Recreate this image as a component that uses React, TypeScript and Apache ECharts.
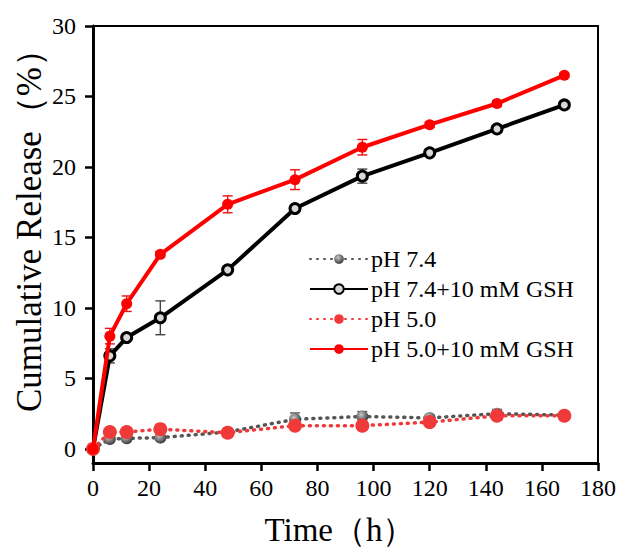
import React, { useEffect, useRef } from "react";
import * as echarts from "echarts";

const times = [0, 6, 12, 24, 48, 72, 96, 120, 144, 168];
const ph74 = [0, 0.7, 0.75, 0.8, 1.2, 2.1, 2.3, 2.2, 2.5, 2.4];
const ph74Err = [0, 0.1, 0.1, 0.15, 0.1, 0.45, 0.35, 0.2, 0.3, 0.2];
const ph74Gsh = [0, 6.6, 7.9, 9.3, 12.7, 17.05, 19.35, 21.0, 22.7, 24.4];
const ph74GshErr = [0, 0.5, 0.2, 1.2, 0.2, 0.2, 0.5, 0.2, 0.2, 0.15];
const ph50 = [0, 1.2, 1.2, 1.4, 1.15, 1.65, 1.65, 1.9, 2.35, 2.35];
const ph50Err = [0, 0.2, 0.15, 0.2, 0.1, 0.15, 0.15, 0.1, 0.2, 0.1];
const ph50Gsh = [0, 8.0, 10.3, 13.8, 17.35, 19.1, 21.4, 23.0, 24.5, 26.5];
const ph50GshErr = [0, 0.55, 0.55, 0.2, 0.6, 0.7, 0.55, 0.2, 0.2, 0.15];

const xTicks = [0, 20, 40, 60, 80, 100, 120, 140, 160, 180];
const yTicks = [0, 5, 10, 15, 20, 25, 30];

const names = ["pH 7.4", "pH 7.4+10 mM GSH", "pH 5.0", "pH 5.0+10 mM GSH"];

const SERIF = "'Liberation Serif', 'Times New Roman', 'DejaVu Serif', serif";

function pairs(vals: number[]) {
  return times.map((t, i) => [t, vals[i]]);
}
function errData(vals: number[], errs: number[]) {
  return times
    .map((t, i) => [t, vals[i] - errs[i], vals[i] + errs[i]])
    .filter((d, i) => errs[i] > 0);
}
function errSeries(vals: number[], errs: number[], color: string, z: number) {
  return {
    type: "custom",
    z,
    silent: true,
    data: errData(vals, errs),
    renderItem: (params: any, api: any) => {
      const x = api.value(0);
      const lo = api.value(1);
      const hi = api.value(2);
      const p1 = api.coord([x, hi]);
      const p2 = api.coord([x, lo]);
      const w = 5;
      const st = { stroke: color, lineWidth: 1.4 };
      return {
        type: "group",
        children: [
          { type: "line", shape: { x1: p1[0], y1: p1[1], x2: p2[0], y2: p2[1] }, style: st },
          { type: "line", shape: { x1: p1[0] - w, y1: p1[1], x2: p1[0] + w, y2: p1[1] }, style: st },
          { type: "line", shape: { x1: p2[0] - w, y1: p2[1], x2: p2[0] + w, y2: p2[1] }, style: st },
        ],
      };
    },
  };
}

export default function App() {
  const ref = useRef<HTMLDivElement>(null);
  useEffect(() => {
    if (!ref.current) return;
    const chart = echarts.init(ref.current, null, { renderer: "svg" });
    const greyBall = new echarts.graphic.RadialGradient(0.4, 0.35, 0.65, [
      { offset: 0, color: "#c8c8c8" },
      { offset: 1, color: "#3a3a3a" },
    ]);
    chart.setOption({
      animation: false,
      backgroundColor: "#ffffff",
      grid: {
        left: 93,
        right: 22,
        top: 26,
        bottom: 90,
        show: true,
        borderColor: "#000",
        borderWidth: 2,
        backgroundColor: "transparent",
      },
      legend: {
        data: names,
        orient: "vertical",
        left: 304,
        top: 242,
        itemWidth: 58,
        itemHeight: 12,
        itemGap: 6,
        textStyle: { fontFamily: SERIF, fontSize: 24, color: "#000", padding: [0, 0, 0, -2] },
      },
      xAxis: {
        type: "value",
        min: 0,
        max: 180,
        interval: 20,
        splitLine: { show: false },
        axisLine: { onZero: false, lineStyle: { color: "#000", width: 3 } },
        axisTick: { show: true, inside: false, length: 8, lineStyle: { color: "#000", width: 2.5 } },
        axisLabel: { fontFamily: SERIF, fontSize: 24, color: "#000", margin: 13, customValues: xTicks },
      },
      yAxis: {
        type: "value",
        min: -1,
        max: 30,
        splitLine: { show: false },
        axisLine: { onZero: false, lineStyle: { color: "#000", width: 3 } },
        axisTick: {
          show: true,
          inside: false,
          length: 8,
          lineStyle: { color: "#000", width: 2.5 },
          customValues: yTicks,
        },
        axisLabel: { fontFamily: SERIF, fontSize: 24, color: "#000", margin: 17, customValues: yTicks },
      },
      graphic: [
        {
          type: "text",
          x: 29,
          y: 222,
          rotation: Math.PI / 2,
          style: {
            text: "Cumulative Release（%）",
            fontFamily: SERIF,
            fontSize: 35,
            fill: "#000",
            textAlign: "center",
            textVerticalAlign: "middle",
          },
        },
        {
          type: "text",
          x: 340,
          y: 530,
          style: {
            text: "Time（h）",
            fontFamily: SERIF,
            fontSize: 33,
            fill: "#000",
            textAlign: "center",
            textVerticalAlign: "middle",
          },
        },
      ],
      series: [
        errSeries(ph74, ph74Err, "#555", 1),
        errSeries(ph50, ph50Err, "#f04040", 1),
        errSeries(ph74Gsh, ph74GshErr, "#444", 1),
        errSeries(ph50Gsh, ph50GshErr, "#ee1111", 1),
        {
          name: names[0],
          type: "line",
          z: 3,
          data: pairs(ph74),
          symbol: "circle",
          symbolSize: 12,
          lineStyle: { color: "#555", width: 3.5, type: [1, 6], cap: "round" },
          itemStyle: { color: greyBall, borderWidth: 0 },
        },
        {
          name: names[1],
          type: "line",
          z: 4,
          data: pairs(ph74Gsh),
          symbol: "circle",
          symbolSize: 10,
          lineStyle: { color: "#000", width: 4 },
          itemStyle: { color: "#d8d8d8", borderColor: "#000", borderWidth: 3 },
        },
        {
          name: names[2],
          type: "line",
          z: 5,
          data: pairs(ph50),
          symbol: "circle",
          symbolSize: 14,
          lineStyle: { color: "#f03a3a", width: 3.5, type: [1, 6], cap: "round" },
          itemStyle: { color: "#f03a3a", borderWidth: 0 },
        },
        {
          name: names[3],
          type: "line",
          z: 6,
          data: pairs(ph50Gsh),
          symbol: "circle",
          symbolSize: 11,
          lineStyle: { color: "#ff0000", width: 4 },
          itemStyle: { color: "#ff0000", borderWidth: 0 },
        },
      ],
    });
    return () => chart.dispose();
  }, []);
  return (
    <div
      ref={ref}
      style={{ position: "fixed", left: 0, top: 0, width: 620, height: 553, background: "#fff" }}
    />
  );
}
